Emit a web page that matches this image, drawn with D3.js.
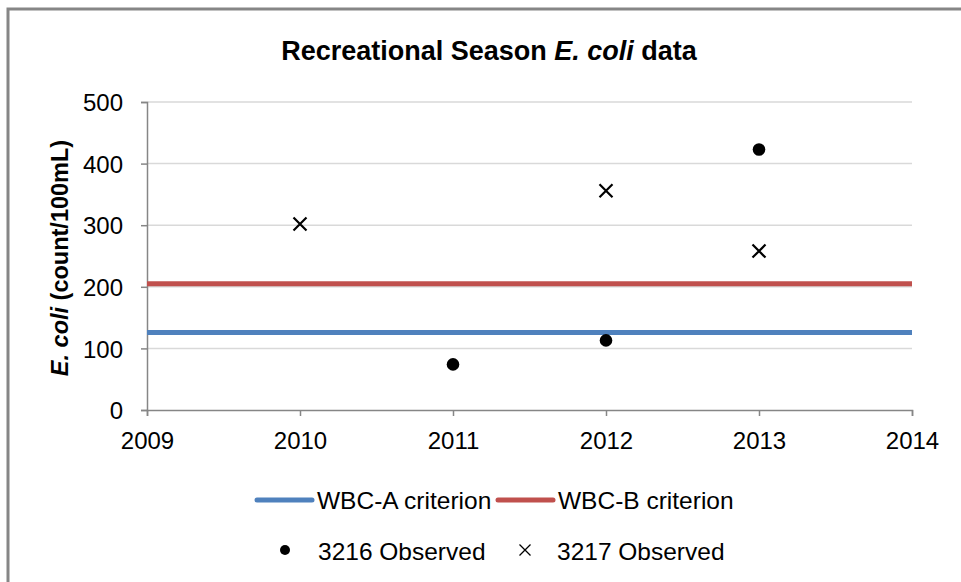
<!DOCTYPE html>
<html>
<head>
<meta charset="utf-8">
<script src="https://cdn.jsdelivr.net/npm/d3@7"></script>
<style>
  body { margin: 0; background: #fff; }
  text { font-family: "Liberation Sans", Arial, sans-serif; fill: #000; }
</style>
</head>
<body>
<script>
// values
var yearTicks = [2009, 2010, 2011, 2012, 2013, 2014];
var valueTicks = [0, 100, 200, 300, 400, 500];

var obs3216Years = [2011, 2012, 2013];
var obs3216Values = [74, 113, 423];

var obs3217Years = [2010, 2012, 2013];
var obs3217Values = [302, 356, 258];

var criteriaNames = ["WBC-A criterion", "WBC-B criterion"];
var criteriaValues = [126, 205];
var criteriaColors = ["#4F81BD", "#C0504D"];

var width = 961, height = 582;

var svg = d3.select("body").append("svg")
    .attr("width", width)
    .attr("height", height);

svg.append("rect").attr("width", width).attr("height", height).attr("fill", "#fff");

// outer frame (only top and left edges are visible)
svg.append("path")
    .attr("d", "M8," + height + "V9H" + width)
    .attr("fill", "none")
    .attr("stroke", "#868686")
    .attr("stroke-width", 3);

var x = d3.scaleLinear().domain([2009, 2014]).range([147, 912]);
var y = d3.scaleLinear().domain([0, 500]).range([410, 102]);

// gridlines
svg.append("g")
    .selectAll("line")
    .data(valueTicks.slice(1))
    .enter().append("line")
    .attr("x1", x(2009)).attr("x2", x(2014))
    .attr("y1", function(d) { return y(d); })
    .attr("y2", function(d) { return y(d); })
    .attr("stroke", "#D9D9D9")
    .attr("stroke-width", 1.5);

// axes
var yAxis = svg.append("g")
    .attr("transform", "translate(" + x(2009) + ",0)")
    .call(d3.axisLeft(y).tickValues(valueTicks).tickSize(6).tickPadding(18));

var xAxis = svg.append("g")
    .attr("transform", "translate(0," + y(0) + ")")
    .call(d3.axisBottom(x).tickValues(yearTicks).tickFormat(d3.format("d")).tickSize(6).tickPadding(16));

[yAxis, xAxis].forEach(function(a) {
  a.select(".domain").attr("stroke", "#868686").attr("stroke-width", 1.5);
  a.selectAll(".tick line").attr("stroke", "#868686").attr("stroke-width", 1.5);
  a.selectAll(".tick text").attr("font-size", "24px").attr("fill", "#000")
    .style("font-family", "'Liberation Sans', Arial, sans-serif");
});
yAxis.selectAll(".tick text").attr("dy", "0.36em");

// criterion lines
svg.append("g")
    .selectAll("line")
    .data(criteriaValues)
    .enter().append("line")
    .attr("x1", x(2009)).attr("x2", x(2014))
    .attr("y1", function(d) { return y(d); })
    .attr("y2", function(d) { return y(d); })
    .attr("stroke", function(d, i) { return criteriaColors[i]; })
    .attr("stroke-width", 5);

// 3216 observed: filled dots
svg.append("g")
    .selectAll("circle")
    .data(obs3216Years)
    .enter().append("circle")
    .attr("cx", function(d) { return x(d); })
    .attr("cy", function(d, i) { return y(obs3216Values[i]); })
    .attr("r", 6.3)
    .attr("fill", "#000");

// 3217 observed: x markers
function cross(sel, s) {
  sel.attr("d", "M" + (-s) + "," + (-s) + "L" + s + "," + s + "M" + (-s) + "," + s + "L" + s + "," + (-s))
    .attr("stroke", "#000")
    .attr("stroke-width", 2.2)
    .attr("fill", "none");
}
svg.append("g")
    .selectAll("path")
    .data(obs3217Years)
    .enter().append("path")
    .attr("transform", function(d, i) { return "translate(" + x(d) + "," + y(obs3217Values[i]) + ")"; })
    .call(cross, 6.5);

// title
var title = svg.append("text")
    .attr("x", 489)
    .attr("y", 60)
    .attr("text-anchor", "middle")
    .attr("font-size", "27px")
    .attr("font-weight", "bold");
title.append("tspan").text("Recreational Season ");
title.append("tspan").attr("font-style", "italic").text("E. coli");
title.append("tspan").text(" data");

// y axis label
var ylab = svg.append("text")
    .attr("transform", "translate(68," + 258 + ") rotate(-90)")
    .attr("text-anchor", "middle")
    .attr("font-size", "23.5px")
    .attr("font-weight", "bold");
ylab.append("tspan").attr("font-style", "italic").text("E. coli");
ylab.append("tspan").text(" (count/100mL)");

// legend
var legend = svg.append("g");
var lineLeft = [257, 498];
criteriaNames.forEach(function(name, i) {
  legend.append("line")
      .attr("x1", lineLeft[i]).attr("x2", lineLeft[i] + 55)
      .attr("y1", 500).attr("y2", 500)
      .attr("stroke", criteriaColors[i])
      .attr("stroke-width", 5)
      .attr("stroke-linecap", "round");
  legend.append("text")
      .attr("x", lineLeft[i] + 60).attr("y", 500)
      .attr("dy", "0.36em")
      .attr("font-size", "24.5px")
      .text(name);
});

legend.append("circle").attr("cx", 285).attr("cy", 550).attr("r", 5).attr("fill", "#000");
legend.append("text").attr("x", 318).attr("y", 551).attr("dy", "0.36em")
    .attr("font-size", "24.5px").text("3216 Observed");
legend.append("path").attr("transform", "translate(525,550)").call(cross, 5.5)
    .attr("stroke-width", 1.3);
legend.append("text").attr("x", 557).attr("y", 551).attr("dy", "0.36em")
    .attr("font-size", "24.5px").text("3217 Observed");
</script>
</body>
</html>
